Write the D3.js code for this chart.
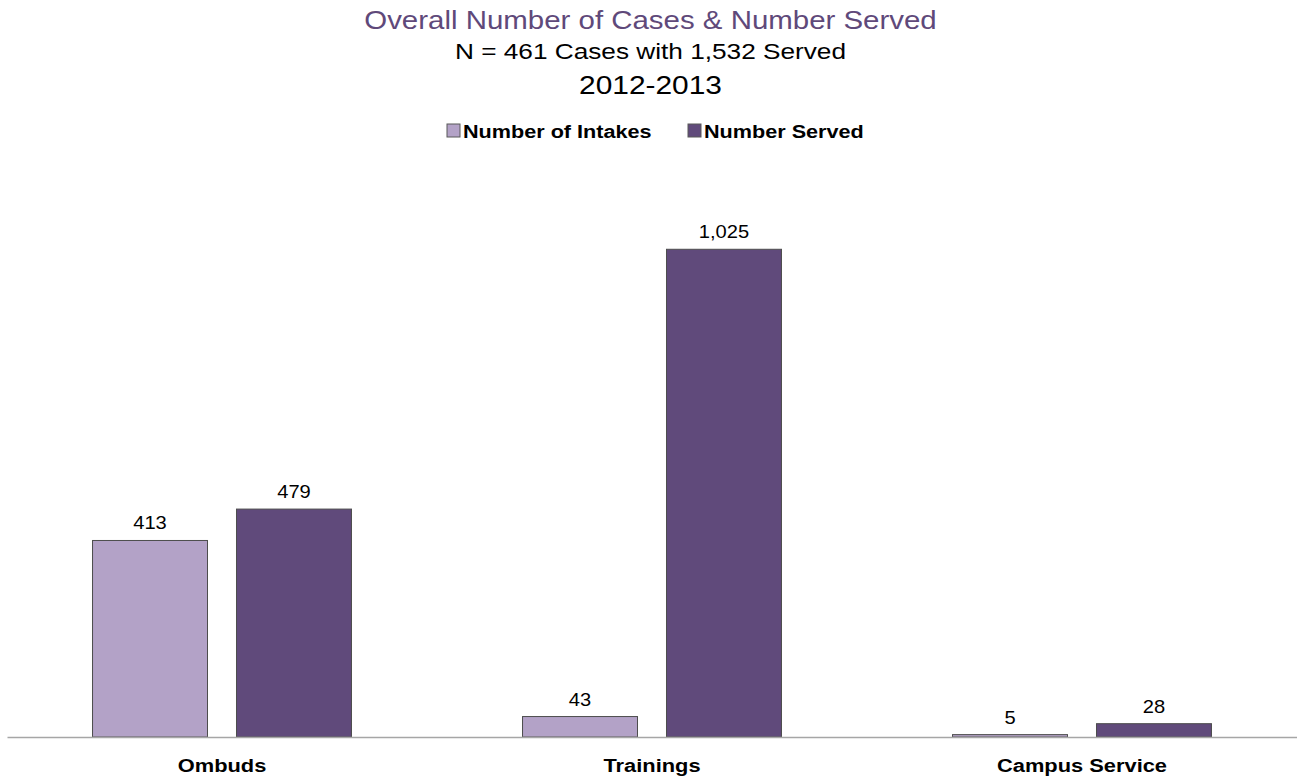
<!DOCTYPE html>
<html>
<head>
<meta charset="utf-8">
<script src="https://cdn.jsdelivr.net/npm/d3@7"></script>
<style>
  html, body { margin: 0; padding: 0; background: #fff; }
  svg { display: block; font-family: "Liberation Sans", Arial, sans-serif; }
</style>
</head>
<body>
<svg id="chart" width="1297" height="779"></svg>
<script>
const categories = ["Ombuds", "Trainings", "Campus Service"];
const seriesNames = ["Number of Intakes", "Number Served"];
const intakes = [413, 43, 5];
const served = [479, 1025, 28];
const titleLines = ["Overall Number of Cases & Number Served", "N = 461 Cases with 1,532 Served", "2012-2013"];

const colors = ["#b3a2c7", "#604a7b"];
const seriesValues = [intakes, served];
const STRETCH = 1.15;

const svg = d3.select("#chart");
const W = 1297, H = 779;

const x0 = d3.scaleBand().domain(categories).range([7, 1297]).paddingInner(0).paddingOuter(0);
const x1 = d3.scaleBand().domain(seriesNames).range([0, x0.bandwidth()]).paddingInner(0.2014).paddingOuter(0.594);
const y = d3.scaleLinear().domain([0, 1200]).range([737, 166]);

function stretchedText(sel, x, yy, txt) {
  return sel.append("text")
    .attr("transform", `translate(${x},${yy}) scale(${STRETCH},1)`)
    .text(txt);
}

// Title
const tx = W / 2 + 2;
stretchedText(svg, tx, 29, titleLines[0]).attr("text-anchor", "middle").attr("font-size", 25.6).attr("fill", "#5f497a");
stretchedText(svg, tx, 59, titleLines[1]).attr("text-anchor", "middle").attr("font-size", 22.8).attr("fill", "#000");
stretchedText(svg, tx, 94, titleLines[2]).attr("text-anchor", "middle").attr("font-size", 26).attr("fill", "#000");

// Legend
const legendItems = [{ name: seriesNames[0], color: colors[0], x: 447 }, { name: seriesNames[1], color: colors[1], x: 688 }];
legendItems.forEach(d => {
  svg.append("rect").attr("x", d.x).attr("y", 124).attr("width", 13).attr("height", 13)
    .attr("fill", d.color).attr("stroke", "#595959").attr("stroke-width", 1);
  stretchedText(svg, d.x + 16, 138, d.name).attr("font-size", 18.8).attr("font-weight", "bold").attr("fill", "#000");
});

// Bars
const groups = svg.append("g").selectAll("g").data(categories).join("g")
  .attr("transform", c => `translate(${x0(c)},0)`);

groups.each(function (c, ci) {
  const g = d3.select(this);
  seriesNames.forEach((s, si) => {
    const v = seriesValues[si][ci];
    g.append("rect")
      .attr("x", x1(s)).attr("y", y(v))
      .attr("width", x1.bandwidth()).attr("height", y(0) - y(v))
      .attr("fill", colors[si]).attr("stroke", "#4d4d4d").attr("stroke-width", 1);
    stretchedText(g, x1(s) + x1.bandwidth() / 2, y(v) - 11, d3.format(",")(v))
      .attr("text-anchor", "middle").attr("font-size", 17.5).attr("fill", "#000");
  });
});

// Axis
const axis = svg.append("g").attr("transform", `translate(0,${y(0)})`)
  .call(d3.axisBottom(x0).tickSize(0).tickPadding(0));
axis.select(".domain").attr("stroke", "#a6a6a6").attr("stroke-width", 1.5);
axis.selectAll(".tick text").remove();
categories.forEach(c => {
  stretchedText(svg, x0(c) + x0.bandwidth() / 2, 772, c)
    .attr("text-anchor", "middle").attr("font-size", 19).attr("font-weight", "bold").attr("fill", "#000");
});
</script>
</body>
</html>
